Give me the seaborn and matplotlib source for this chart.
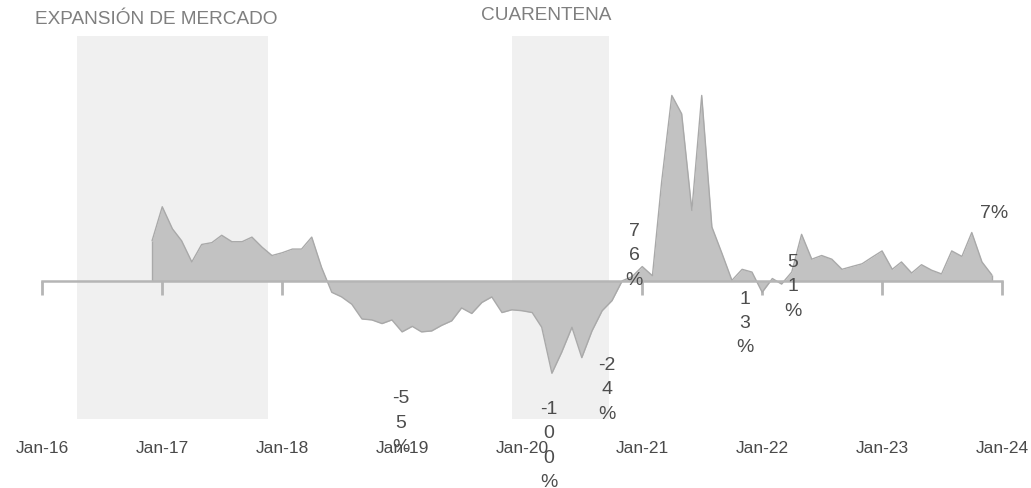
import pandas as pd
import numpy as np
import matplotlib.pyplot as plt
import matplotlib.dates as mdates
import seaborn as sns

sns.set_style("white")
plt.rcParams['font.family'] = ['Liberation Sans', 'DejaVu Sans']

# Serie mensual (variación %), dic-16 a dic-23
fechas = pd.date_range('2016-12-01', '2023-12-01', freq='MS')
valores = [44, 81, 57, 44, 21, 40, 42, 50, 43, 43, 48, 37, 28,
           31, 35, 35, 48, 15, -12, -17, -25, -41, -42, -46, -42,
           -55, -49, -55, -54, -48, -43, -29, -35, -23, -17, -34, -31,
           -32, -34, -50, -100, -77, -50, -83, -54, -32, -21, 0.5, 5,
           16, 6, 108, 202, 182, 77, 202, 59, 30, 1, 13, 10,
           -12, 3, -3, 10, 51, 24, 28, 24, 13, 16, 19, 26,
           33, 13, 21, 9, 18, 12, 8, 33, 27, 53, 21, 7]

anios = pd.date_range('2016-01-01', '2024-01-01', freq='YS')
etiquetas_anio = ['Jan-16', 'Jan-17', 'Jan-18', 'Jan-19', 'Jan-20',
                  'Jan-21', 'Jan-22', 'Jan-23', 'Jan-24']

# Periodos sombreados
periodos = ['EXPANSIÓN DE MERCADO', 'CUARENTENA']
periodo_inicio = pd.to_datetime(['2016-04-18', '2019-12-01'])
periodo_fin = pd.to_datetime(['2017-11-18', '2020-09-21'])

# Etiquetas de valores
textos = ['-55%', '-100%', '-24%', '76%', '13%', '51%', '7%']
texto_fecha = pd.to_datetime(['2018-12-28', '2020-03-22', '2020-09-15', '2020-12-07',
                              '2021-11-10', '2022-04-04', '2023-12-07'])
texto_y = [-153, -178, -117, 28.6, -45, -5, 75]

df = pd.DataFrame({'fecha': fechas, 'valor': valores})

W, H = 1031, 489
fig = plt.figure(figsize=(W / 100, H / 100), dpi=100)
ax = fig.add_axes([42 / W, 69 / H, 960 / W, 383 / H])

for ini, fin in zip(periodo_inicio, periodo_fin):
    ax.axvspan(ini, fin, color='#f0f0f0', lw=0, zorder=0)

ax.fill_between(df['fecha'], df['valor'], 0, color='#c2c2c2', lw=0, zorder=1)
sns.lineplot(data=df, x='fecha', y='valor', color='#a9a9a9', lw=1, ax=ax, zorder=1.5)
# bordes verticales de inicio y fin del área
ax.vlines([fechas[0], fechas[-1]], 0, [valores[0], valores[-1]], color='#a9a9a9', lw=1, zorder=1.5)

ax.set_xlim(anios[0], anios[-1])
ax.set_ylim(-149.7, 266.6)
ax.set_xlabel('')
ax.set_ylabel('')
ax.set_yticks([])

for s in ['top', 'right', 'left']:
    ax.spines[s].set_visible(False)
ax.spines['bottom'].set_position(('data', 0))
ax.spines['bottom'].set_color('#b5b5b5')
ax.spines['bottom'].set_linewidth(1.8)
ax.spines['bottom'].set_zorder(3)
ax.set_xticks(anios)
ax.tick_params(axis='x', direction='out', length=10, width=2, color='#b5b5b5',
               labelbottom=False, bottom=True)

sec = ax.secondary_xaxis('bottom')
sec.spines['bottom'].set_visible(False)
sec.set_xticks(anios, etiquetas_anio)
sec.tick_params(length=0, pad=15, labelsize=12.5, labelcolor='#4a4a4a')


def vertical(t):
    partes = list(t)
    if partes[0] == '-':
        partes = [partes[0] + partes[1]] + partes[2:]
    return '\n'.join(partes)


for t, fx, fy in zip(textos, texto_fecha, texto_y):
    s = t if t == '7%' else vertical(t)
    ax.text(fx, fy, s, ha='center', va='center', multialignment='center',
            fontsize=14, color='#4d4d4d', linespacing=1.55, clip_on=False, zorder=4)

fig.text(35 / W, 1 - 19 / H, periodos[0], ha='left', va='center', fontsize=13.7, color='#7f7f7f')
fig.text(546 / W, 1 - 16 / H, periodos[1], ha='center', va='center', fontsize=13.7, color='#7f7f7f')

fig.savefig('out.png', dpi=100)
